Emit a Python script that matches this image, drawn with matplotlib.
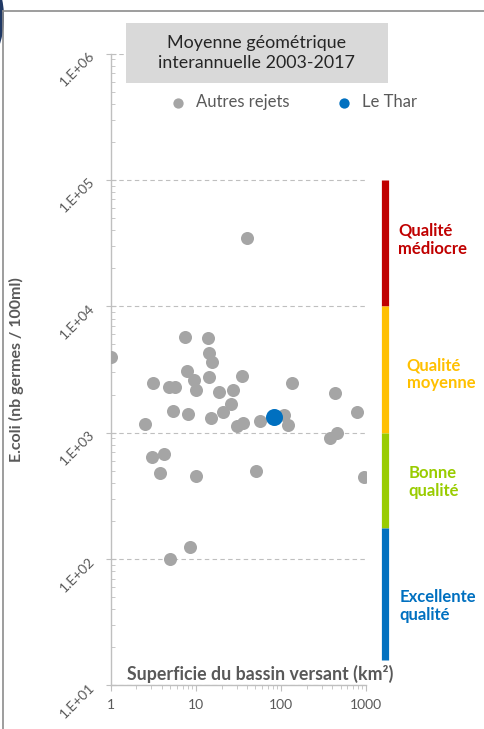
import matplotlib
matplotlib.use('Agg')
import matplotlib.pyplot as plt
import matplotlib.transforms as mtransforms
from matplotlib.patches import Rectangle, Circle
from matplotlib.lines import Line2D

# ====== DATA ==========
# Autres rejets : superficie du bassin versant (km2) / E.coli (nb germes / 100ml)
autres_surface = [1.0, 7.45, 14.0, 14.4, 15.3, 7.8, 9.5, 10.0, 3.16, 4.87,
                  5.76, 14.4, 34.5, 18.8, 27.5, 25.8, 21.0, 5.34, 8.0, 2.53,
                  14.9, 30.1, 35.4, 57.0, 108, 121.5, 132.5, 429, 784, 375,
                  457, 948, 50.7, 3.03, 4.26, 3.79, 10.0, 8.53, 4.97, 39.5]
autres_ecoli = [3970, 5720, 5610, 4270, 3650, 3080, 2590, 2180, 2460, 2300,
                2300, 2740, 2810, 2080, 2160, 1690, 1460, 1490, 1400, 1170,
                1310, 1130, 1190, 1230, 1380, 1150, 2460, 2070, 1470, 903,
                989, 449, 502, 642, 675, 483, 454, 124, 101, 34500]
thar_surface = [82.5]
thar_ecoli = [1340]

# classes de qualite (bornes E.coli, du haut vers le bas)
quality_bounds = [1e5, 1e4, 1e3, 176, 16]
quality_labels = ["Qualité\nmédiocre", "Qualité\nmoyenne", "Bonne\nqualité", "Excellente\nqualité"]
quality_colors = ["#C00000", "#FFC000", "#99CC00", "#0070C0"]
quality_label_y = [33500, 2910, 407, 42.6]
quality_label_x = [1.125, 1.158, 1.164, 1.129]

plt.rcParams['font.family'] = ['Lato', 'DejaVu Sans']
grey_txt = "#595959"
axis_col = "#BFBFBF"

fig = plt.figure(figsize=(4.84, 7.29), dpi=100)
ax = fig.add_axes([0.2287, 0.0597, 0.7568 - 0.2287, 0.9266 - 0.0597])

ax.scatter(autres_surface, autres_ecoli, s=88, color="#A5A5A5", label="Autres rejets", zorder=3, linewidths=0)
ax.scatter(thar_surface, thar_ecoli, s=150, color="#0070C0", label="Le Thar", zorder=4, linewidths=0)

ax.set_xscale('log')
ax.set_yscale('log')
ax.set_xlim(1, 1000)
ax.set_ylim(10, 1e6)
ax.set_xticks([1, 10, 100, 1000])
ax.set_xticklabels(["1", "10", "100", "1000"])
ax.set_yticks([1e1, 1e2, 1e3, 1e4, 1e5, 1e6])
ax.set_yticklabels(["1.E+01", "1.E+02", "1.E+03", "1.E+04", "1.E+05", "1.E+06"])

for sp in ['top', 'right']:
    ax.spines[sp].set_visible(False)
for sp in ['left', 'bottom']:
    ax.spines[sp].set_color(axis_col)
    ax.spines[sp].set_linewidth(1.0)

ax.yaxis.grid(True, which='major', color=axis_col, linestyle=(0, (4, 3)), linewidth=0.8)
ax.set_axisbelow(True)

ax.tick_params(axis='y', which='major', direction='inout', length=6.5, color=axis_col,
               labelsize=10, labelcolor=grey_txt, pad=10)
ax.tick_params(axis='y', which='minor', direction='in', length=3, color=axis_col)
ax.tick_params(axis='x', which='major', direction='out', length=4, color=axis_col,
               labelsize=10, labelcolor=grey_txt, pad=6)
ax.tick_params(axis='x', which='minor', direction='out', length=3, color=axis_col)
for lab in ax.get_yticklabels():
    lab.set_rotation(45)
    lab.set_ha('right')
    lab.set_va('center')
    lab.set_rotation_mode('anchor')

ax.set_ylabel("E.coli (nb germes / 100ml)", fontsize=11.5, fontweight='bold', color=grey_txt)
ax.yaxis.set_label_coords(-0.34, 0.5)
ax.set_xlabel("Superficie du bassin versant (km²)", fontsize=12.8, fontweight='bold', color=grey_txt, va='baseline')
ax.xaxis.set_label_coords(0.584, 0.008)

# barres de qualite
trans = mtransforms.blended_transform_factory(ax.transAxes, ax.transData)
for i in range(len(quality_labels)):
    ax.plot([1.074, 1.074], [quality_bounds[i], quality_bounds[i + 1]], transform=trans,
            color=quality_colors[i], linewidth=5.2, solid_capstyle='butt', clip_on=False)
    ax.text(quality_label_x[i], quality_label_y[i], quality_labels[i], transform=trans,
            color=quality_colors[i], fontsize=12, fontweight='bold', ha='left', va='center',
            linespacing=1.15)

# encadre titre
fig.patches.append(Rectangle((126 / 484, 1 - 83 / 729), (388 - 126) / 484, 60 / 729,
                             transform=fig.transFigure, facecolor="#D9D9D9", edgecolor='none', zorder=5))
fig.text(257 / 484, 1 - 53 / 729, "Moyenne géométrique\ninterannuelle 2003-2017", ha='center', va='center',
         fontsize=12.9, color="#262626", linespacing=1.3, zorder=6)

leg = ax.legend(loc='center', bbox_to_anchor=(289 / 484, 1 - 102 / 729), bbox_transform=fig.transFigure,
                ncol=2, frameon=False, fontsize=12, handletextpad=0.05, columnspacing=2.3,
                labelcolor=grey_txt, borderaxespad=0)
for h in leg.legend_handles:
    h.set_sizes([55])

# cadre et pastille
fig.add_artist(Line2D([3 / 484, 3 / 484], [0, 1 - 11 / 729], color="#8C8C8C", linewidth=1.2))
fig.add_artist(Line2D([3 / 484, 1], [1 - 11 / 729, 1 - 11 / 729], color="#8C8C8C", linewidth=1.2))
fig.patches.append(Circle((-36 / 484, 1 - 17.5 / 729), 40 / 484, transform=fig.transFigure,
                          facecolor="#1F3864", edgecolor='none'))

fig.savefig("out.png", dpi=100)
